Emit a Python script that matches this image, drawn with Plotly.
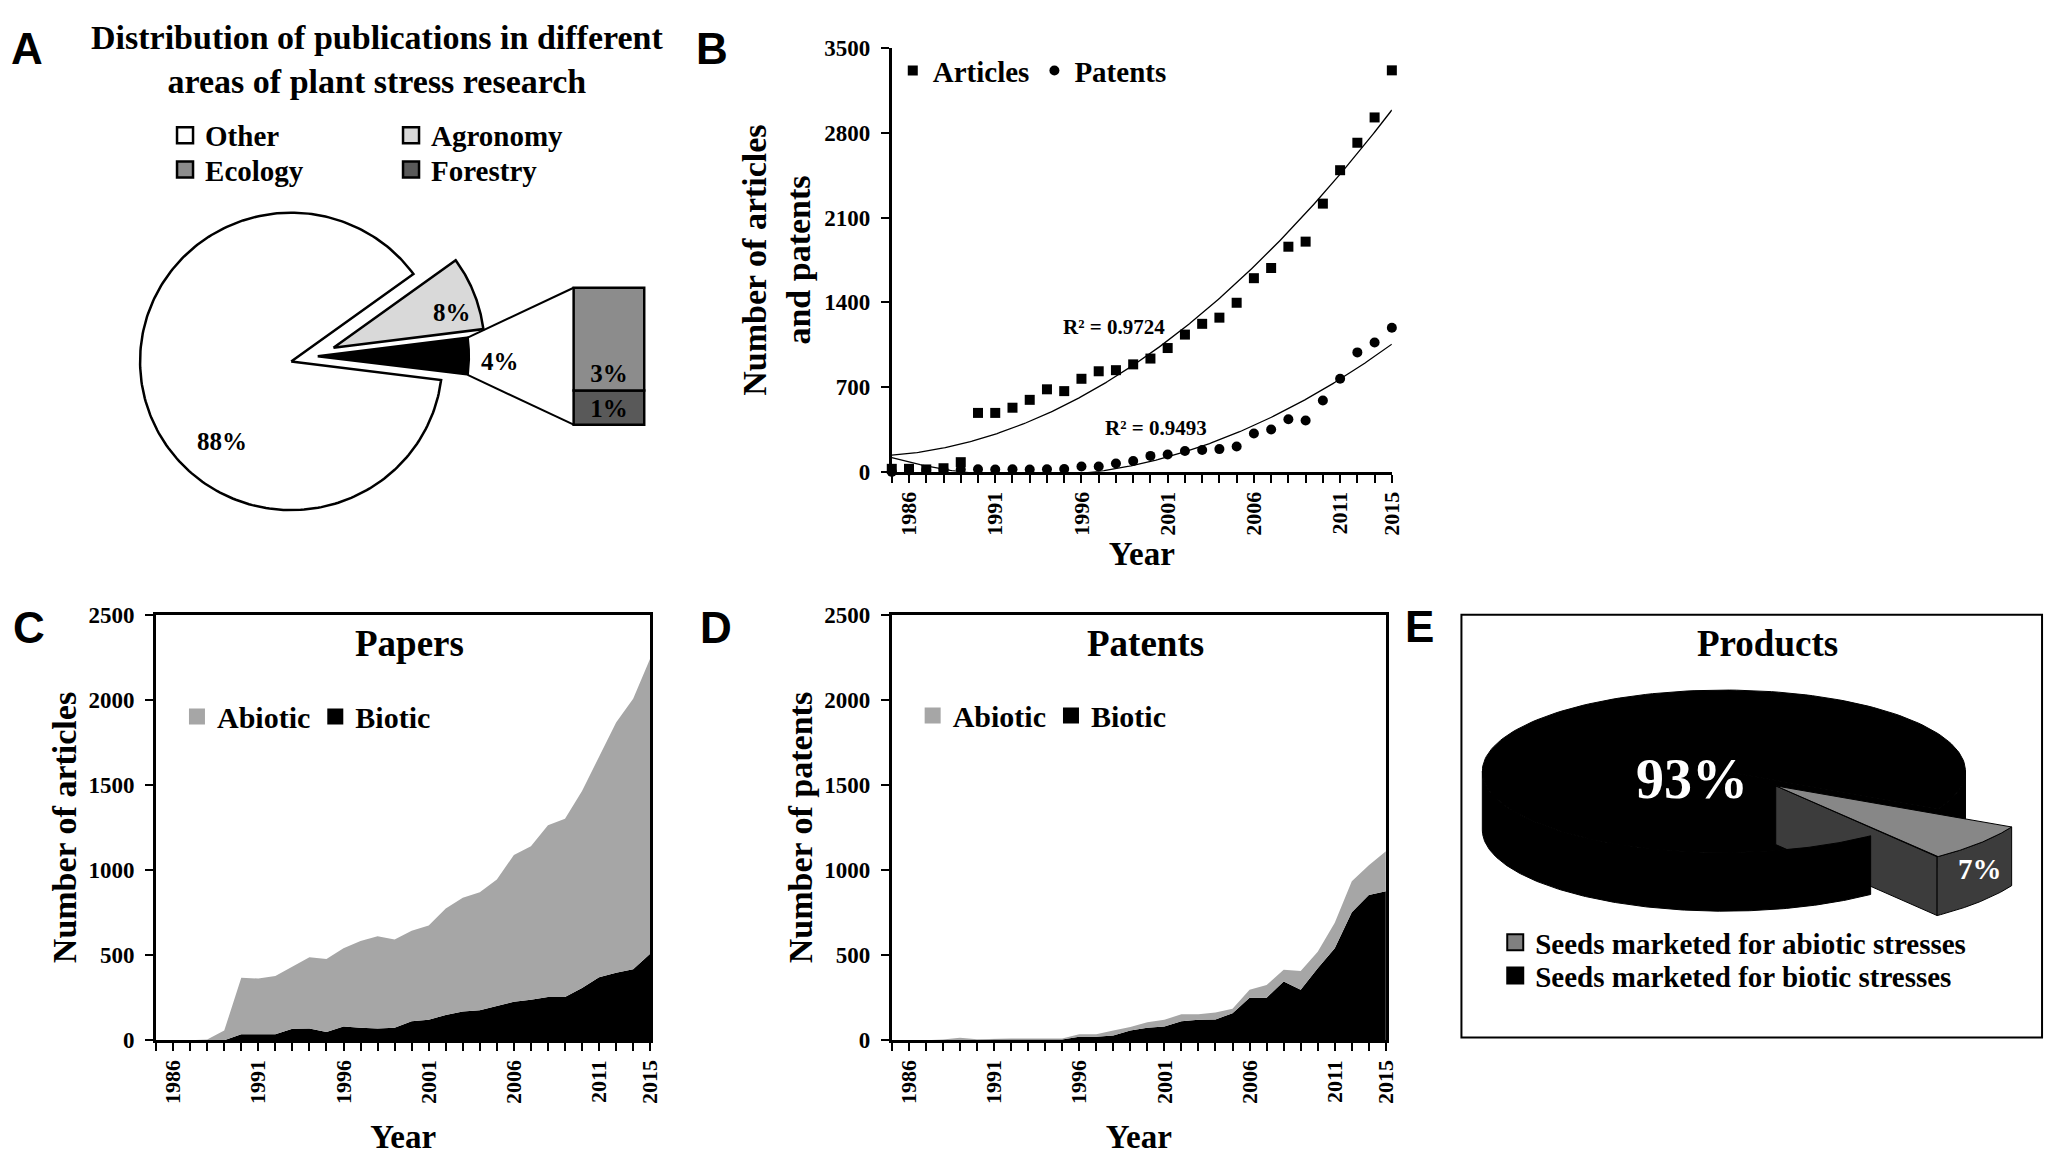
import numpy as np
import plotly.graph_objects as go

W, H = 2061, 1159
SERIF = "Liberation Serif, Times New Roman, serif"
SANS = "Liberation Sans, Arial, sans-serif"

# ---------------------------------------------------------------------------
# Data
# ---------------------------------------------------------------------------
# A: share of publications by research area (%)
area_labels = ["Other", "Agronomy", "Ecology", "Forestry"]
area_share = [88, 8, 3, 1]
area_colors = ["#ffffff", "#d9d9d9", "#8c8c8c", "#595959"]

# B, C, D share one category axis of 30 yearly points
n_years = 30
year_tick_pos = [1, 6, 11, 16, 21, 26, 29]
year_tick_text = ["1986", "1991", "1996", "2001", "2006", "2011", "2015"]

# B: number of articles and patents per year
articles = [25, 25, 20, 30, 80, 487, 487, 530, 595, 682, 667, 769, 831, 840, 888,
            936, 1023, 1134, 1223, 1274, 1397, 1600, 1684, 1860, 1902, 2216, 2492,
            2719, 2928, 3317]
patents = [0, 12, 15, 18, 20, 22, 20, 22, 20, 22, 24, 45, 45, 69, 90, 132, 144, 173,
           180, 188, 209, 317, 350, 434, 425, 589, 769, 987, 1068, 1190]
r2_labels = ["R² = 0.9724", "R² = 0.9493"]

# C: papers, abiotic vs biotic stress (stacked)
paper_abiotic = [0, 0, 0, 5, 57, 331, 327, 342, 367, 418, 428, 460, 510, 541, 518,
                 531, 554, 626, 668, 694, 742, 862, 902, 1008, 1046, 1156, 1295,
                 1470, 1588, 1734]
paper_biotic = [0, 0, 0, 0, 0, 36, 36, 36, 68, 70, 49, 81, 74, 70, 74, 112, 121, 149,
                170, 176, 202, 227, 238, 255, 255, 308, 371, 397, 418, 509]

# D: patents, abiotic vs biotic stress (stacked)
patent_abiotic = [0, 0, 0, 5, 12, 4, 5, 5, 5, 5, 5, 15, 15, 29, 21, 32, 40, 41, 32,
                  40, 26, 47, 75, 68, 110, 96, 149, 181, 176, 234]
patent_biotic = [0, 0, 0, 0, 3, 2, 5, 5, 5, 5, 5, 21, 21, 28, 57, 74, 81, 112, 121,
                 123, 159, 250, 250, 346, 297, 424, 541, 753, 853, 876]

# E: marketed seed products (%)
product_labels = ["Seeds marketed for abiotic stresses", "Seeds marketed for biotic stresses"]
product_share = [7, 93]

year_idx = list(range(n_years))
GRAY = "#a6a6a6"


def xd(a, b):
    return [a / W, b / W]


def yd(top, bottom):
    return [1 - bottom / H, 1 - top / H]


def note(text, x, y, size, color="black", family=SERIF, **kw):
    fig.add_annotation(text=text, x=x / W, y=1 - y / H, xref="paper", yref="paper",
                       xanchor="center", yanchor="middle", showarrow=False,
                       font=dict(size=size, color=color, family=family), **kw)


fig = go.Figure()

# ---------------------------------------------------------------------------
# A: exploded pie with a bar-of-pie for the small areas
# ---------------------------------------------------------------------------
A_CX, A_CY, A_R = 313.5, 351.8, 152.0      # pie centre / radius, px
split_share = area_share[2] + area_share[3]
slices = [(split_share, "#000000", 0.04),
          (area_share[1], area_colors[1], 0.155),
          (area_share[0], area_colors[0], 0.14)]
start = -split_share * 3.6 / 2
split_ends = None
for share, color, pull in slices:
    end = start + share * 3.6
    mid = np.radians((start + end) / 2)
    ox, oy = pull * np.cos(mid), pull * np.sin(mid)
    t = np.radians(np.linspace(start, end, 241))
    fig.add_trace(go.Scatter(
        x=np.r_[ox, ox + np.cos(t), ox], y=np.r_[oy, oy + np.sin(t), oy],
        mode="lines", fill="toself", fillcolor=color,
        line=dict(color="black", width=2.5), showlegend=False, hoverinfo="skip",
        xaxis="x", yaxis="y"))
    if split_ends is None:
        split_ends = (ox + np.cos(t[[0, -1]]), oy + np.sin(t[[0, -1]]))
    start = end

bar_xc = (612.5 - A_CX) / A_R
bar_w = 71 / A_R
bar_unit = 35 / A_R                         # height of one percentage point
bar_vals = [area_share[3], area_share[2]]   # forestry below, ecology above
bar_base = [-split_share * bar_unit / 2, -split_share * bar_unit / 2 + bar_vals[0] * bar_unit]
fig.add_trace(go.Bar(
    x=[bar_xc, bar_xc], y=[v * bar_unit for v in bar_vals], base=bar_base, width=bar_w,
    marker=dict(color=[area_colors[3], area_colors[2]], line=dict(color="black", width=2.5)),
    text=[f"{v}%" for v in bar_vals], textposition="inside", insidetextanchor="start",
    textangle=0, constraintext="none", textfont=dict(size=25, color="black"),
    showlegend=False, hoverinfo="skip", xaxis="x", yaxis="y"))

bar_left = bar_xc - bar_w / 2
for ex, ey, by in zip(split_ends[0], split_ends[1],
                      [bar_base[0], bar_base[0] + split_share * bar_unit]):
    fig.add_trace(go.Scatter(x=[ex, bar_left], y=[ey, by], mode="lines",
                             line=dict(color="black", width=2), showlegend=False,
                             hoverinfo="skip", xaxis="x", yaxis="y"))

for lab, col, lg in zip(area_labels, area_colors, ["legend", "legend", "legend2", "legend2"]):
    fig.add_trace(go.Scatter(x=[None], y=[None], mode="markers", name=lab, legend=lg,
                             marker=dict(symbol="square", size=16, color=col,
                                         line=dict(color="black", width=2.5))))

note(f"{area_share[0]}%", 223.6, 439, 25)
note(f"{area_share[1]}%", 455, 307, 25)
note(f"{split_share}%", 503, 357, 25)
note("Distribution of publications in different<br>areas of plant stress research",
     379, 49, 34)

# ---------------------------------------------------------------------------
# B: articles and patents with 2nd order polynomial trends
# ---------------------------------------------------------------------------
fig.add_trace(go.Scatter(x=year_idx, y=articles, mode="markers", name="Articles",
                         marker=dict(symbol="square", size=10, color="black"),
                         cliponaxis=False, legend="legend3", xaxis="x2", yaxis="y2"))
fig.add_trace(go.Scatter(x=year_idx, y=patents, mode="markers", name="Patents",
                         marker=dict(symbol="circle", size=10, color="black"),
                         cliponaxis=False, legend="legend3", xaxis="x2", yaxis="y2"))
xfit = np.linspace(0, n_years - 1, 300)
for series in (articles, patents):
    coef = np.polyfit(year_idx, series, 2)
    fig.add_trace(go.Scatter(x=xfit, y=np.polyval(coef, xfit), mode="lines",
                             line=dict(color="black", width=1.3), showlegend=False,
                             hoverinfo="skip", xaxis="x2", yaxis="y2"))
note(r2_labels[0], 1121, 322, 21)
note(r2_labels[1], 1163, 425, 21)

# ---------------------------------------------------------------------------
# C / D: stacked areas
# ---------------------------------------------------------------------------
for ax, grp, abiotic, biotic, lg in (("3", "papers", paper_abiotic, paper_biotic, "legend4"),
                                     ("4", "patents", patent_abiotic, patent_biotic, "legend5")):
    fig.add_trace(go.Scatter(x=year_idx, y=biotic, stackgroup=grp, mode="lines",
                             line=dict(width=0, color="black"), fillcolor="black",
                             showlegend=False, hoverinfo="skip",
                             xaxis="x" + ax, yaxis="y" + ax))
    fig.add_trace(go.Scatter(x=year_idx, y=abiotic, stackgroup=grp, mode="lines",
                             line=dict(width=0, color=GRAY), fillcolor=GRAY,
                             showlegend=False, hoverinfo="skip",
                             xaxis="x" + ax, yaxis="y" + ax))
    for lab, col in (("Abiotic", GRAY), ("Biotic", "black")):
        fig.add_trace(go.Scatter(x=[None], y=[None], mode="markers", name=lab, legend=lg,
                                 marker=dict(symbol="square", size=16, color=col),
                                 xaxis="x" + ax, yaxis="y" + ax))

note("Papers", 412, 645, 37)
note("Patents", 1152, 645, 37)

# ---------------------------------------------------------------------------
# E: 3-D looking exploded pie, drawn in px units
# ---------------------------------------------------------------------------
E_CX, E_CY, E_RX, E_RY, E_DEPTH = 1734, 776, 243, 83, 60
E_MID, E_PULL, E_WEDGE = -40, 0.28, 1.1
g0 = E_MID - product_share[0] * 3.6 / 2
g1 = E_MID + product_share[0] * 3.6 / 2


def rim(cx, cy, a0, a1, n=200, dy=0, k=1.0):
    t = np.radians(np.linspace(a0, a1, n))
    return cx + k * E_RX * np.cos(t), cy - k * E_RY * np.sin(t) + dy


def poly(xs, ys, fill, line_col=None, lw=1):
    fig.add_trace(go.Scatter(x=xs, y=ys, mode="lines", fill="toself", fillcolor=fill,
                             line=dict(color=line_col or fill, width=lw), showlegend=False,
                             hoverinfo="skip", xaxis="x5", yaxis="y5"))


def wall(cx, cy, a0, a1, fill, line_col=None, k=1.0):
    tx, ty = rim(cx, cy, a0, a1, k=k)
    bx, by = rim(cx, cy, a1, a0, dy=E_DEPTH, k=k)
    poly(np.r_[tx, bx, tx[0]], np.r_[ty, by, ty[0]], fill, line_col)


def radial(cx, cy, a, fill, line_col=None, k=1.0):
    ex, ey = rim(cx, cy, a, a, n=1, k=k)
    poly([cx, ex[0], ex[0], cx, cx], [cy, ey[0], ey[0] + E_DEPTH, cy + E_DEPTH, cy],
         fill, line_col)


# biotic body (parts behind the pulled wedge)
tx, ty = rim(E_CX, E_CY, g1, g0 + 360)
poly(np.r_[E_CX, tx, E_CX], np.r_[E_CY, ty, E_CY], "black")
radial(E_CX, E_CY, g1, "black")
wall(E_CX, E_CY, g1, 0, "black")

# abiotic wedge, pulled out
vx = E_CX + E_PULL * E_RX * np.cos(np.radians(E_MID))
vy = E_CY - E_PULL * E_RY * np.sin(np.radians(E_MID))
radial(vx, vy, g0, "#3c3c3c", "black", k=E_WEDGE)
wall(vx, vy, g0, g1, "#3c3c3c", "black", k=E_WEDGE)
tx, ty = rim(vx, vy, g0, g1, k=E_WEDGE)
poly(np.r_[vx, tx, vx], np.r_[vy, ty, vy], "#878787", "black")

# biotic front wall
wall(E_CX, E_CY, 180, g0 + 360, "black")

for lab, col, lg in zip(product_labels, ["#808080", "black"], ["legend6", "legend7"]):
    fig.add_trace(go.Scatter(x=[None], y=[None], mode="markers", name=lab, legend=lg,
                             marker=dict(symbol="square", size=16, color=col,
                                         line=dict(color="black", width=2)),
                             xaxis="x5", yaxis="y5"))

note(f"{product_share[1]}%", 1702, 784, 56, color="white")
note(f"{product_share[0]}%", 1992, 876, 29, color="white")
note("Products", 1778, 645, 37)
fig.add_shape(type="rect", xref="paper", yref="paper", x0=1470 / W, x1=2054 / W,
              y0=1 - 1048 / H, y1=1 - 616 / H, line=dict(color="black", width=2))

# panel letters
for letter, lx, ly in (("A", 26.7, 37.5), ("B", 716, 37.5), ("C", 28.7, 629.5),
                       ("D", 720, 629), ("E", 1428, 628)):
    note(letter, lx, ly, 44, family=SANS)

# ---------------------------------------------------------------------------
# Layout
# ---------------------------------------------------------------------------
cat_x = dict(range=[0, n_years - 1], tickmode="array", tickvals=year_tick_pos,
             ticktext=year_tick_text, tickangle=-90, tickfont=dict(size=22),
             ticks="outside", ticklen=8, tickwidth=2, tickcolor="black",
             minor=dict(dtick=1, tick0=0, ticks="outside", ticklen=8, tickwidth=2,
                        tickcolor="black"),
             showline=True, linewidth=3, linecolor="black", showgrid=False,
             zeroline=False, fixedrange=True)
val_y = dict(ticks="outside", ticklen=8, tickwidth=2, tickcolor="black",
             tickfont=dict(size=23), ticklabelstandoff=6,
             showline=True, linewidth=3, linecolor="black", showgrid=False,
             zeroline=False, fixedrange=True)


def legend_cfg(x, y, size, orientation="h", **kw):
    return dict(x=x / W, y=1 - y / H, xref="paper", yref="paper", xanchor="left",
                yanchor="middle", orientation=orientation, traceorder="normal",
                bgcolor="rgba(0,0,0,0)", itemwidth=30, tracegroupgap=0,
                font=dict(size=size), **kw)


fig.update_layout(
    width=W, height=H, margin=dict(l=0, r=0, t=0, b=0), autosize=False,
    paper_bgcolor="white", plot_bgcolor="rgba(0,0,0,0)", hovermode=False,
    font=dict(family=SERIF, color="black", weight="bold"),
    barmode="overlay",
    xaxis=dict(domain=xd(90, 700), range=[(90 - A_CX) / A_R, (700 - A_CX) / A_R],
               visible=False, fixedrange=True),
    yaxis=dict(domain=yd(170, 560), range=[(A_CY - 560) / A_R, (A_CY - 170) / A_R],
               visible=False, fixedrange=True),
    xaxis2=dict(domain=xd(897, 1400), anchor="y2",
                title=dict(text="Year", font=dict(size=33), standoff=5), **cat_x),
    yaxis2=dict(domain=yd(37, 470), anchor="x2", range=[0, 3500], dtick=700,
                title=dict(text="Number of articles<br>and patents", font=dict(size=34),
                           standoff=4), **val_y),
    xaxis3=dict(domain=xd(157, 654), anchor="y3", mirror=True,
                title=dict(text="Year", font=dict(size=33), standoff=22), **cat_x),
    yaxis3=dict(domain=yd(616, 1051), anchor="x3", range=[0, 2500], dtick=500, mirror=True,
                title=dict(text="Number of articles", font=dict(size=34), standoff=2),
                **val_y),
    xaxis4=dict(domain=xd(897, 1394), anchor="y4", mirror=True,
                title=dict(text="Year", font=dict(size=33), standoff=22), **cat_x),
    yaxis4=dict(domain=yd(616, 1051), anchor="x4", range=[0, 2500], dtick=500, mirror=True,
                title=dict(text="Number of patents", font=dict(size=34), standoff=2),
                **val_y),
    xaxis5=dict(domain=xd(1470, 2054), range=[1470, 2054], anchor="y5",
                visible=False, fixedrange=True),
    yaxis5=dict(domain=yd(616, 1048), range=[1048, 616], anchor="x5",
                visible=False, fixedrange=True),
    legend=legend_cfg(166, 126, 29, entrywidth=181),
    legend2=legend_cfg(166, 161, 29, entrywidth=181),
    legend3=legend_cfg(898, 60, 29),
    legend4=legend_cfg(178, 720, 30),
    legend5=legend_cfg(918, 719, 30),
    legend6=legend_cfg(1504, 951, 29),
    legend7=legend_cfg(1504, 985, 29),
)

fig.write_html("out.html", config={"displayModeBar": False},
               post_script="document.body.style.margin='0px';")
